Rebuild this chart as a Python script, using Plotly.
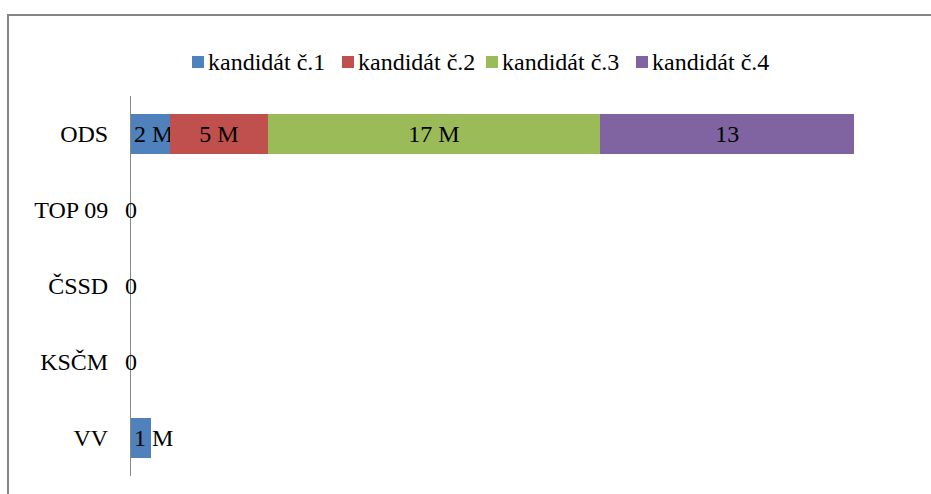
import plotly.graph_objects as go

categories = ["ODS", "TOP 09", "ČSSD", "KSČM", "VV"]
series_names = ["kandidát č.1", "kandidát č.2", "kandidát č.3", "kandidát č.4"]
values_c1 = [2, 0, 0, 0, 1]
values_c2 = [5, 0, 0, 0, 0]
values_c3 = [17, 0, 0, 0, 0]
values_c4 = [13, 0, 0, 0, 0]
labels_c1 = ["2 M", "", "", "", "1 M"]
labels_c2 = ["5 M", "", "", "", ""]
labels_c3 = ["17 M", "", "", "", ""]
labels_c4 = ["13", "", "", "", ""]
colors = ["#4F81BD", "#C0504D", "#9BBB59", "#8064A2"]

FONT = "Liberation Serif, Times New Roman, serif"
FS = 24

W, H = 931, 494
L, R, T, B = 131, 18, 96, 18
pw, ph = W - L - R, H - T - B


def px_x(x):
    return (x - L) / pw


def px_y(y):
    return 1 - (y - T) / ph


fig = go.Figure()
all_vals = [values_c1, values_c2, values_c3, values_c4]
all_labels = [labels_c1, labels_c2, labels_c3, labels_c4]
for k, (name, vals, labs, col) in enumerate(zip(series_names, all_vals, all_labels, colors)):
    fig.add_trace(go.Bar(
        y=categories, x=vals, name=name, orientation="h",
        marker=dict(color=col, line=dict(width=0)),
        text=labs, textposition="inside",
        insidetextanchor="start" if k == 0 else "middle",
        constraintext="none", textangle=0, cliponaxis=False,
        textfont=dict(family=FONT, size=FS, color="black"),
        hoverinfo="skip", showlegend=False,
    ))

annotations = []
# zero-value labels at the axis
for i, cat in enumerate(categories):
    total = sum(v[i] for v in all_vals)
    if total == 0:
        annotations.append(dict(x=0, y=cat, xref="x", yref="y", text="0",
                                showarrow=False, xanchor="center", yanchor="middle",
                                font=dict(family=FONT, size=FS, color="black")))

# custom legend (squares + text)
legend_px = [192, 342, 486, 636]
shapes = []
for name, col, x0 in zip(series_names, colors, legend_px):
    shapes.append(dict(type="rect", xref="paper", yref="paper",
                       x0=px_x(x0), x1=px_x(x0 + 12), y0=px_y(68), y1=px_y(56),
                       fillcolor=col, line=dict(width=0)))
    annotations.append(dict(x=px_x(x0 + 14), y=px_y(62), xref="paper", yref="paper",
                            text=name, showarrow=False, xanchor="left", yanchor="middle",
                            font=dict(family=FONT, size=FS, color="black")))

# outer chart border
shapes.append(dict(type="rect", xref="paper", yref="paper",
                   x0=px_x(8), x1=px_x(W + 6), y0=px_y(H + 6), y1=px_y(15),
                   line=dict(color="#868686", width=2), layer="below"))

fig.update_layout(
    width=W, height=H, barmode="stack", bargap=0.483,
    margin=dict(l=L, r=R, t=T, b=B),
    paper_bgcolor="white", plot_bgcolor="white",
    font=dict(family=FONT, size=FS, color="black"),
    xaxis=dict(range=[0, 40], visible=False, showgrid=False, zeroline=False),
    yaxis=dict(categoryorder="array", categoryarray=categories[::-1],
               showline=True, linecolor="#868686", linewidth=1,
               ticks="", showgrid=False, zeroline=False, ticklabelstandoff=17,
               tickfont=dict(family=FONT, size=FS, color="black")),
    showlegend=False,
    annotations=annotations,
    shapes=shapes,
)

fig.write_html("out.html", config={"displayModeBar": False},
               post_script="document.body.style.margin='0';document.body.style.overflow='hidden';")
